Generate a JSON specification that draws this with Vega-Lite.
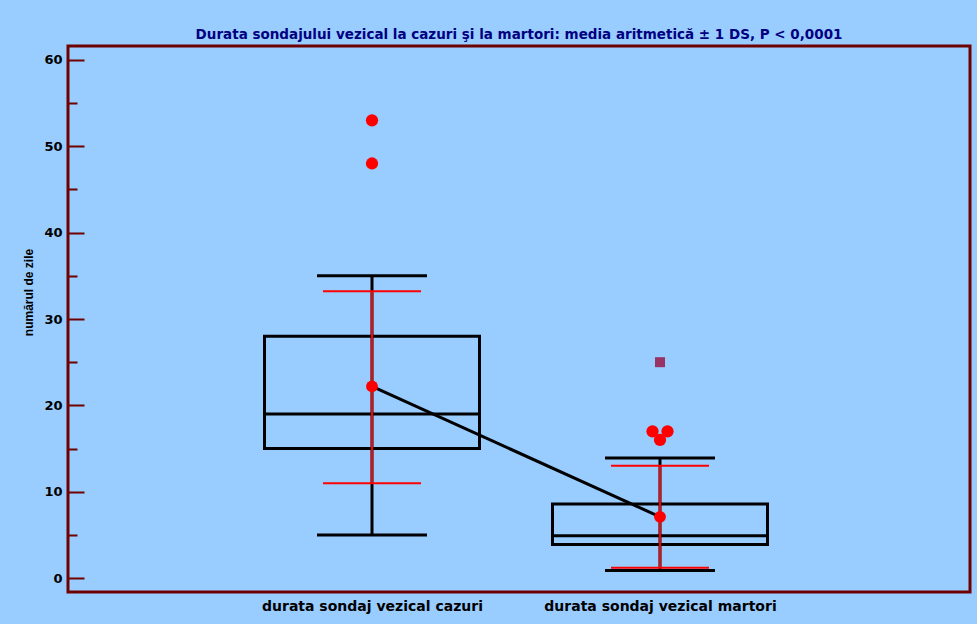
{
  "$schema": "https://vega.github.io/schema/vega-lite/v6.json",
  "width": 902,
  "height": 546,
  "autosize": {"type": "none"},
  "padding": {"left": 68, "top": 46, "right": 7, "bottom": 32},
  "background": "#99CCFF",
  "title": {
    "text": "Durata sondajului vezical la cazuri şi la martori: media aritmetică ± 1 DS, P < 0,0001",
    "color": "#000080",
    "font": "DejaVu Sans",
    "fontSize": 13.5,
    "fontWeight": "bold",
    "offset": 5,
    "anchor": "middle"
  },
  "config": {
    "view": {"stroke": "#6E0000", "strokeWidth": 3},
    "font": "DejaVu Sans"
  },
  "datasets": {
    "summary": [
      {"group": "durata  sondaj vezical cazuri", "lo": 5, "q1": 15, "median": 19, "q3": 28, "hi": 35, "mean": 22.2, "sd_lo": 11.0, "sd_hi": 33.2},
      {"group": "durata  sondaj vezical martori", "lo": 0.9, "q1": 3.9, "median": 4.9, "q3": 8.6, "hi": 13.9, "mean": 7.1, "sd_lo": 1.2, "sd_hi": 13.0}
    ],
    "outliers": [
      {"group": "durata  sondaj vezical cazuri", "value": 53, "kind": "circle", "pos": "mid"},
      {"group": "durata  sondaj vezical cazuri", "value": 48, "kind": "circle", "pos": "mid"},
      {"group": "durata  sondaj vezical martori", "value": 17, "kind": "circle", "pos": "left"},
      {"group": "durata  sondaj vezical martori", "value": 17, "kind": "circle", "pos": "right"},
      {"group": "durata  sondaj vezical martori", "value": 16, "kind": "circle", "pos": "mid"},
      {"group": "durata  sondaj vezical martori", "value": 25, "kind": "square", "pos": "mid"}
    ]
  },
  "encoding": {
    "x": {
      "field": "group",
      "type": "nominal",
      "sort": ["durata  sondaj vezical cazuri", "durata  sondaj vezical martori"],
      "scale": {"type": "point", "range": [304, 592], "padding": 0},
      "axis": {
        "title": null,
        "ticks": false,
        "domain": false,
        "labelAngle": 0,
        "labelLimit": 0,
        "labelFont": "DejaVu Sans",
        "labelFontSize": 14,
        "labelFontWeight": "bold",
        "labelColor": "black",
        "labelPadding": 7
      }
    }
  },
  "layer": [
    {
      "data": {"name": "summary"},
      "mark": {"type": "rule", "color": "black", "strokeWidth": 3},
      "encoding": {
        "y": {
          "field": "lo",
          "type": "quantitative",
          "scale": {"domain": [-1.6, 61.6], "nice": false, "zero": false},
          "axis": {
            "title": "numărul de zile",
            "values": [0, 5, 10, 15, 20, 25, 30, 35, 40, 45, 50, 55, 60],
            "labelExpr": "datum.value % 10 === 0 ? datum.label : ''",
            "domain": false,
            "grid": false,
            "tickColor": "#6E0000",
            "tickWidth": 2,
            "tickSize": -16,
            "tickDash": {"condition": {"test": "datum.value % 10 === 0", "value": [16, 0]}, "value": [9, 40]},
            "labelPadding": 22,
            "labelFont": "DejaVu Sans",
            "labelFontSize": 13,
            "labelFontWeight": "bold",
            "labelColor": "black",
            "titleFont": "Liberation Sans",
            "titleFontSize": 12,
            "titleFontWeight": "bold",
            "titleColor": "black",
            "titleAngle": -90,
            "titleBaseline": "middle",
            "titleX": -40,
            "titleY": 246
          }
        },
        "y2": {"field": "hi"}
      }
    },
    {
      "data": {"name": "summary"},
      "mark": {"type": "bar", "size": 215, "fillOpacity": 0, "stroke": "black", "strokeWidth": 3},
      "encoding": {
        "y": {"field": "q1", "type": "quantitative", "scale": {"domain": [-1.6, 61.6], "nice": false, "zero": false}},
        "y2": {"field": "q3"}
      }
    },
    {
      "data": {"name": "summary"},
      "mark": {"type": "tick", "size": 215, "thickness": 3, "color": "black", "opacity": 1},
      "encoding": {
        "y": {"field": "median", "type": "quantitative", "scale": {"domain": [-1.6, 61.6], "nice": false, "zero": false}}
      }
    },
    {
      "data": {"name": "summary"},
      "mark": {"type": "tick", "size": 110, "thickness": 3, "color": "black", "opacity": 1},
      "encoding": {
        "y": {"field": "lo", "type": "quantitative", "scale": {"domain": [-1.6, 61.6], "nice": false, "zero": false}}
      }
    },
    {
      "data": {"name": "summary"},
      "mark": {"type": "tick", "size": 110, "thickness": 3, "color": "black", "opacity": 1},
      "encoding": {
        "y": {"field": "hi", "type": "quantitative", "scale": {"domain": [-1.6, 61.6], "nice": false, "zero": false}}
      }
    },
    {
      "data": {"name": "summary"},
      "mark": {"type": "rule", "color": "#FF0000", "strokeWidth": 2},
      "encoding": {
        "y": {"field": "sd_lo", "type": "quantitative", "scale": {"domain": [-1.6, 61.6], "nice": false, "zero": false}},
        "y2": {"field": "sd_hi"}
      }
    },
    {
      "data": {"name": "summary"},
      "mark": {"type": "tick", "size": 98, "thickness": 2, "color": "#FF0000", "opacity": 1},
      "encoding": {
        "y": {"field": "sd_lo", "type": "quantitative", "scale": {"domain": [-1.6, 61.6], "nice": false, "zero": false}}
      }
    },
    {
      "data": {"name": "summary"},
      "mark": {"type": "tick", "size": 98, "thickness": 2, "color": "#FF0000", "opacity": 1},
      "encoding": {
        "y": {"field": "sd_hi", "type": "quantitative", "scale": {"domain": [-1.6, 61.6], "nice": false, "zero": false}}
      }
    },
    {
      "data": {"name": "summary"},
      "mark": {"type": "line", "color": "black", "strokeWidth": 3},
      "encoding": {
        "y": {"field": "mean", "type": "quantitative", "scale": {"domain": [-1.6, 61.6], "nice": false, "zero": false}}
      }
    },
    {
      "data": {"name": "summary"},
      "mark": {"type": "circle", "color": "#FF0000", "size": 140, "opacity": 1},
      "encoding": {
        "y": {"field": "mean", "type": "quantitative", "scale": {"domain": [-1.6, 61.6], "nice": false, "zero": false}}
      }
    },
    {
      "data": {"name": "outliers"},
      "transform": [{"filter": "datum.kind === 'circle'"}],
      "mark": {"type": "circle", "color": "#FF0000", "size": 150, "opacity": 1},
      "encoding": {
        "y": {"field": "value", "type": "quantitative", "scale": {"domain": [-1.6, 61.6], "nice": false, "zero": false}},
        "xOffset": {"field": "pos", "type": "nominal", "scale": {"type": "point", "domain": ["left", "mid", "right"], "range": [-7.5, 7.5], "padding": 0}, "legend": null}
      }
    },
    {
      "data": {"name": "outliers"},
      "transform": [{"filter": "datum.kind === 'square'"}],
      "mark": {"type": "square", "color": "#993366", "size": 100, "opacity": 1},
      "encoding": {
        "y": {"field": "value", "type": "quantitative", "scale": {"domain": [-1.6, 61.6], "nice": false, "zero": false}}
      }
    }
  ]
}
